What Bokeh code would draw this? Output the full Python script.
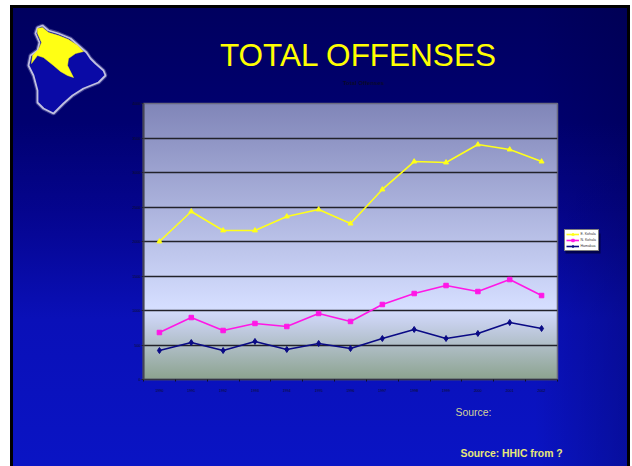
from bokeh.plotting import figure
from bokeh.embed import file_html
from bokeh.resources import INLINE
from bokeh.models import (Range1d, FixedTicker, Label, Legend, LegendItem)

years = ["1990","1991","1992","1993","1994","1995","1996","1997","1998","1999","2000","2001","2002"]
e_kohala = [2000,2435,2160,2160,2362,2464,2260,2754,3159,3145,3405,3333,3159]
n_kohala = [681,898,710,812,768,957,841,1087,1246,1362,1275,1449,1217]
hamakua  = [420,536,420,551,435,522,449,594,725,594,667,826,739]
y_ticks = [0,500,1000,1500,2000,2500,3000,3500,4000]

logo_x = [37,42,48,58,70,78,86,90,95,103,105,98,83,72,63,53,43,37,37,33,28,30,37,39,35]
logo_y = [27,25,30,33,38,45,52,58,63,70,75,82,88,95,103,113,108,102,90,75,65,55,50,42,33]
north_x = [37,42,48,58,68,77,83,75,68,67,73,67,60,53,43,37,31,32,38,41,37]
north_y = [28,27,32,35,39,45,51,53,58,65,77,75,71,65,57,55,63,55,49,42,33]

xs = list(range(len(years)))
W, H = 632, 466
L, T, R, B = 143, 103, 557, 379

# Slide layer: background, logo, slide texts and legend, in pixel-like data units
base = figure(width=W, height=H, output_backend="svg", toolbar_location=None,
              x_range=Range1d(0, W), y_range=Range1d(H, 0), x_axis_type=None, y_axis_type=None,
              min_border=0)
base.border_fill_color = None
base.background_fill_color = None
base.outline_line_color = None
base.grid.visible = False
base.styles = {
    "position": "absolute", "left": "0", "top": "0",
    "background": (
        f"linear-gradient(#8085b8 0%, #d5deff 74%, #c6cfea 80%, #8ca38f 100%) {L}px {T}px / {R-L}px {B-T}px no-repeat,"
        "linear-gradient(to right, rgba(0,0,60,0) 85%, rgba(0,0,60,.28) 100%) 13px 8px / 614px 458px no-repeat,"
        "linear-gradient(#00005f 0%, #000070 25%, #05058f 45%, #0a10b8 68%, #0a14c4 100%) 13px 8px / 614px 458px no-repeat,"
        "linear-gradient(#000,#000) 10px 5px / 620px 461px no-repeat, #fff"
    ),
}
base.patch(logo_x, logo_y, fill_alpha=0, line_color="#b4b4dc", line_alpha=0.35, line_width=4)
base.patch(logo_x, logo_y, fill_color="#0a0aa6", line_color="#c0c0e0", line_width=1.8)
base.patch(north_x, north_y, fill_color="#ffff14", line_color="#ffff14", line_width=0.5)
base.quad(left=[565], right=[600], top=[233], bottom=[253], fill_color="#000033", line_color=None, fill_alpha=0.7)

def txt(s, x, y, size, col, style="normal", align="left"):
    base.add_layout(Label(x=x, y=y, text=s, text_font="Liberation Sans", text_font_size=size,
                          text_color=col, text_font_style=style, text_align=align,
                          text_baseline="middle"))

txt("TOTAL OFFENSES", 358, 54.5, "31.5px", "#ffff00", align="center")
txt("Total Offenses", 363, 82, "6px", "#0a0a2a", "bold", "center")
txt("Source:", 455, 412, "10.4px", "#d2d29a")
txt("Source:  HHIC from ?", 460, 453, "10.4px", "#e8e878", "bold")

# Chart layer
p = figure(width=W, height=H, output_backend="svg", toolbar_location=None,
           x_range=Range1d(-0.5, 12.5), y_range=Range1d(0, 4000),
           min_border_left=L, min_border_right=W-R, min_border_top=T, min_border_bottom=H-B)
p.border_fill_color = None
p.background_fill_color = None
p.outline_line_color = "#6a6a80"
p.outline_line_width = 1.5
p.styles = {"position": "absolute", "left": "0", "top": "0"}

p.xaxis.ticker = FixedTicker(ticks=xs, minor_ticks=[i - 0.5 for i in range(len(years) + 1)])
p.xaxis.major_label_overrides = {i: y for i, y in enumerate(years)}
p.xaxis.major_tick_line_color = None
p.xaxis.minor_tick_line_color = "#111122"
p.xaxis.minor_tick_out = 2
p.xaxis.minor_tick_in = 0
p.xaxis.axis_line_color = "#333344"
p.xaxis.axis_line_width = 1.5
p.xaxis.major_label_standoff = 3
p.yaxis.ticker = FixedTicker(ticks=y_ticks)
p.yaxis.minor_tick_line_color = None
p.yaxis.major_tick_in = 0
p.yaxis.major_tick_out = 2
p.yaxis.major_tick_line_color = "#222233"
p.yaxis.axis_line_color = "#444455"
p.yaxis.axis_line_width = 2
p.yaxis.major_label_standoff = 1
for ax in (p.xaxis, p.yaxis):
    ax.major_label_text_font = "Liberation Sans"
    ax.major_label_text_font_size = "3.6px"
    ax.major_label_text_color = "#10101a"
p.xgrid.grid_line_color = None
p.ygrid.ticker = FixedTicker(ticks=y_ticks)
p.ygrid.grid_line_color = "#22222a"
p.ygrid.grid_line_width = 1.3

styles = [("E. Kohala", e_kohala, "#ffff1a", "triangle", 5),
          ("N. Kohala", n_kohala, "#ff17e6", "square", 4.5),
          ("Hamakua", hamakua, "#0a0a85", "diamond", 6)]
items = []
for name, vals, col, mark, size in styles:
    p.line(xs, vals, line_color=col, line_width=1.6)
    p.scatter(xs, vals, marker=mark, size=size, fill_color=col, line_color=col)
    k1 = base.line(xs, vals, line_color=col, line_width=1.6, visible=False)
    k2 = base.scatter(xs, vals, marker=mark, size=4, fill_color=col, line_color=col, visible=False)
    items.append(LegendItem(label=name, renderers=[k1, k2]))

legend = Legend(items=items, location=(563.5, H - 251), orientation="vertical",
                glyph_width=13, glyph_height=6, label_height=6, label_width=16,
                spacing=0, padding=1, margin=0, label_standoff=2,
                label_text_font="Liberation Sans", label_text_font_size="3.5px",
                label_text_color="#333333", background_fill_color="#ffffff",
                background_fill_alpha=1, border_line_color="#000000", border_line_width=1)
base.add_layout(legend)

open("out.html", "w").write(file_html([base, p], INLINE))
